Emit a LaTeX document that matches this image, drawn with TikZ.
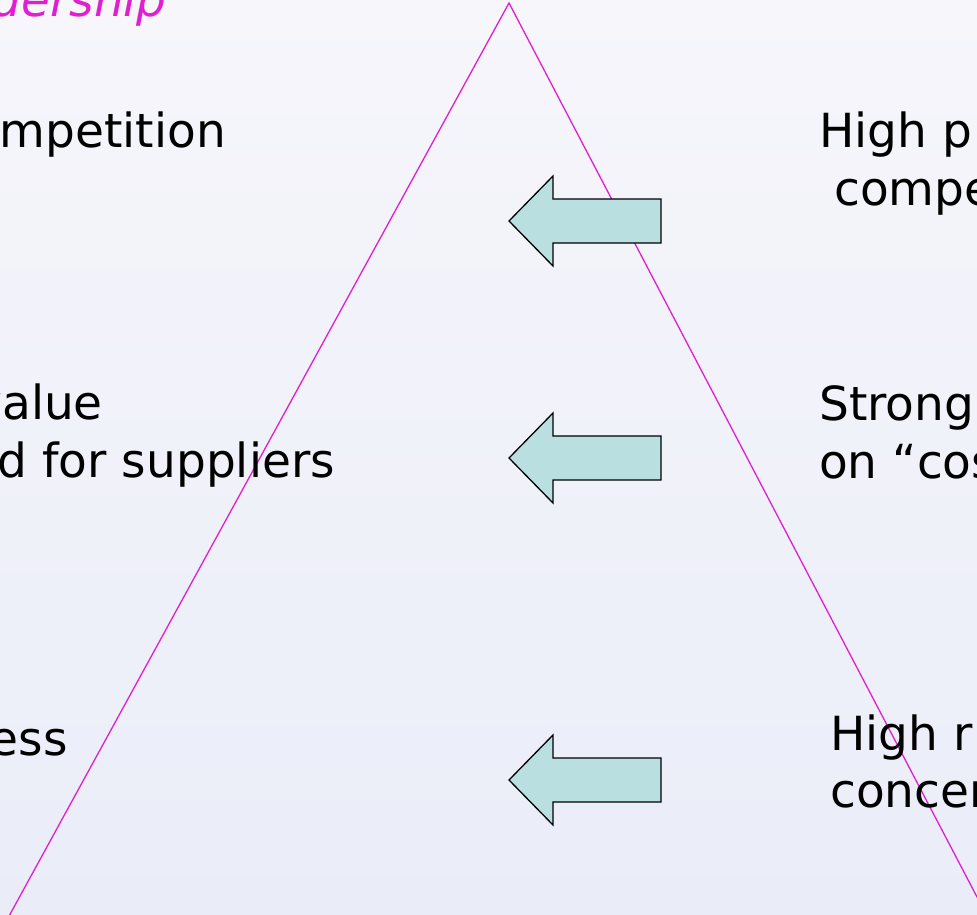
\documentclass[tikz,border=0pt]{standalone}
\usepackage{fontspec}
\setmainfont{DejaVu Sans}
\definecolor{pinkline}{RGB}{224,32,208}
\definecolor{arrowfill}{RGB}{185,223,225}
\begin{document}
\begin{tikzpicture}[x=1pt, y=-1pt,
        every node/.style={inner sep=0pt, font=\fontsize{47}{58}\selectfont}]
    \useasboundingbox (0,0) rectangle (977,915);
    \clip (0,0) rectangle (977,915);
    \shade[top color={rgb,255:red,246;green,246;blue,251}, bottom color={rgb,255:red,234;green,237;blue,248}] (0,0) rectangle (977,915);
    % pyramid
    \draw[pinkline, line width=1.3pt] (-15,960) -- (509,3) -- (1010,960);
    % arrows
    \foreach \y in {221,458,780}
        \draw[fill=arrowfill, line width=1.3pt, line join=miter] (509,\y) -- (553,\y-45) -- (553,\y-22) -- (661,\y-22)
            -- (661,\y+22) -- (553,\y+22) -- (553,\y+45) -- cycle;
    % left column
    \node[anchor=base east, text=pinkline, font=\fontsize{47}{58}\selectfont\itshape] (title) at (167,17) {dership};
    \node[anchor=base east] (compL) at (226,148) {mpetition};
    \node[anchor=base east] (valueL) at (103,419) {value};
    \node[anchor=base east] (suppL) at (335,477) {d for suppliers};
    \node[anchor=base east] (essL) at (68,755) {ess};
    % right column
    \node[anchor=base west] (highR) at (819,147) {High p};
    \node[anchor=base west] (compeR) at (834,205) {compe};
    \node[anchor=base west] (strongR) at (819,420) {Strong};
    \node[anchor=base west] (costR) at (819,478) {on “cos};
    \node[anchor=base west] (highmR) at (830,750) {High r};
    \node[anchor=base west] (concernR) at (830,807) {concer};
\end{tikzpicture}
\end{document}
